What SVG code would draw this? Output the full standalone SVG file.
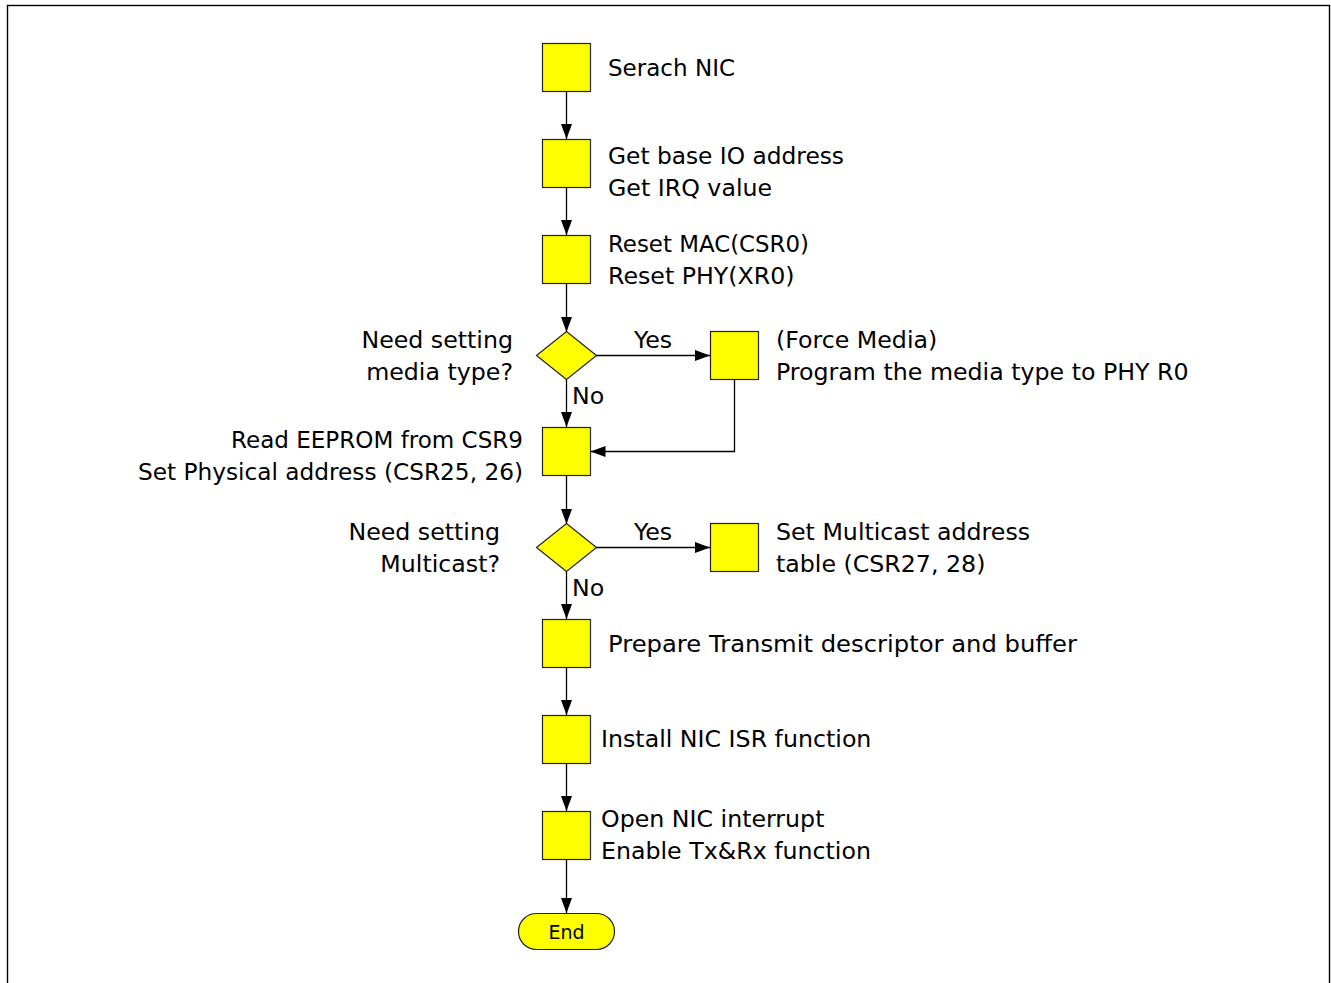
<svg xmlns="http://www.w3.org/2000/svg" width="1331" height="983" viewBox="0 0 1331 983">
<style>
text{font-family:"DejaVu Sans","Noto Sans",sans-serif;font-size:23.7px;fill:#000}
.r{text-anchor:end}
.m{text-anchor:middle}
.box{fill:#ffff00;stroke:#222;stroke-width:1.2}
.c{fill:none;stroke:#000;stroke-width:1.3}
</style>
<defs>
<marker id="ah" markerWidth="16" markerHeight="11" refX="15" refY="5.5" orient="auto" markerUnits="userSpaceOnUse">
<path d="M0,0 L15,5.5 L0,11 Z" fill="#000"/>
</marker>
</defs>
<rect x="7.5" y="5.5" width="1322" height="1000" fill="#fff" stroke="#000" stroke-width="1.4"/>
<g id="connectors">
<line class="c" x1="566.5" y1="91.5" x2="566.5" y2="139" marker-end="url(#ah)"/>
<line class="c" x1="566.5" y1="187.5" x2="566.5" y2="235" marker-end="url(#ah)"/>
<line class="c" x1="566.5" y1="283.5" x2="566.5" y2="332" marker-end="url(#ah)"/>
<line class="c" x1="596" y1="355.5" x2="710" y2="355.5" marker-end="url(#ah)"/>
<line class="c" x1="566.5" y1="379.5" x2="566.5" y2="427" marker-end="url(#ah)"/>
<polyline class="c" points="734.5,379.5 734.5,451.5 590.5,451.5" marker-end="url(#ah)"/>
<line class="c" x1="566.5" y1="475.5" x2="566.5" y2="524" marker-end="url(#ah)"/>
<line class="c" x1="596" y1="547.5" x2="710" y2="547.5" marker-end="url(#ah)"/>
<line class="c" x1="566.5" y1="571.5" x2="566.5" y2="619" marker-end="url(#ah)"/>
<line class="c" x1="566.5" y1="667.5" x2="566.5" y2="715" marker-end="url(#ah)"/>
<line class="c" x1="566.5" y1="763.5" x2="566.5" y2="811" marker-end="url(#ah)"/>
<line class="c" x1="566.5" y1="859.5" x2="566.5" y2="913" marker-end="url(#ah)"/>
<text x="653" y="348" class="m">Yes</text>
<text x="572" y="403.5">No</text>
<text x="653" y="540" class="m">Yes</text>
<text x="572" y="595.5">No</text>
</g>
<g id="n1">
<rect class="box" x="542.5" y="43.5" width="48" height="48"/>
<text x="608" y="75.5" textLength="127" lengthAdjust="spacingAndGlyphs">Serach NIC</text>
</g>
<g id="n2">
<rect class="box" x="542.5" y="139.5" width="48" height="48"/>
<text x="608" y="163.5" textLength="236" lengthAdjust="spacingAndGlyphs">Get base IO address</text>
<text x="608" y="195.5">Get IRQ value</text>
</g>
<g id="n3">
<rect class="box" x="542.5" y="235.5" width="48" height="48"/>
<text x="608" y="251.5" textLength="201" lengthAdjust="spacingAndGlyphs">Reset MAC(CSR0)</text>
<text x="608" y="283.5">Reset PHY(XR0)</text>
</g>
<g id="d1">
<polygon class="box" points="566.5,331.5 596.5,355.5 566.5,379.5 536.5,355.5"/>
<text x="513" y="348" class="r">Need setting</text>
<text x="513" y="380" class="r">media type?</text>
</g>
<g id="n4">
<rect class="box" x="710.5" y="331.5" width="48" height="48"/>
<text x="776" y="348">(Force Media)</text>
<text x="776" y="380">Program the media type to PHY R0</text>
</g>
<g id="n5">
<rect class="box" x="542.5" y="427.5" width="48" height="48"/>
<text x="231" y="448" textLength="292" lengthAdjust="spacingAndGlyphs">Read EEPROM from CSR9</text>
<text x="138" y="480" textLength="385" lengthAdjust="spacingAndGlyphs">Set Physical address (CSR25, 26)</text>
</g>
<g id="d2">
<polygon class="box" points="566.5,523.5 596.5,547.5 566.5,571.5 536.5,547.5"/>
<text x="500" y="540" class="r">Need setting</text>
<text x="500" y="572" class="r">Multicast?</text>
</g>
<g id="n6">
<rect class="box" x="710.5" y="523.5" width="48" height="48"/>
<text x="776" y="540">Set Multicast address</text>
<text x="776" y="572">table (CSR27, 28)</text>
</g>
<g id="n7">
<rect class="box" x="542.5" y="619.5" width="48" height="48"/>
<text x="608" y="651.5" textLength="469" lengthAdjust="spacingAndGlyphs">Prepare Transmit descriptor and buffer</text>
</g>
<g id="n8">
<rect class="box" x="542.5" y="715.5" width="48" height="48"/>
<text x="601" y="746.5">Install NIC ISR function</text>
</g>
<g id="n9">
<rect class="box" x="542.5" y="811.5" width="48" height="48"/>
<text x="601" y="827">Open NIC interrupt</text>
<text x="601" y="859">Enable Tx&amp;Rx function</text>
</g>
<g id="end">
<rect class="box" x="518.5" y="913.5" width="96" height="36" rx="18" ry="18"/>
<text x="566.5" y="938.5" class="m" style="font-size:19px">End</text>
</g>
</svg>
